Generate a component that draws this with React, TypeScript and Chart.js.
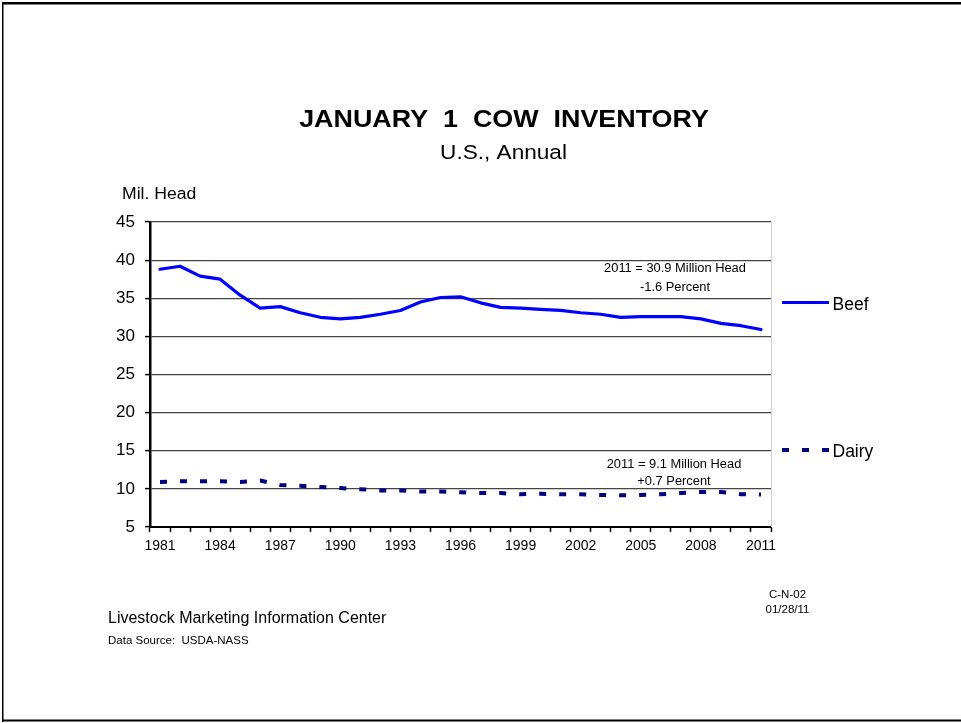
import React, { useEffect, useRef } from "react";
import { Chart, registerables } from "chart.js";

Chart.register(...registerables);

const years: string[] = [
  "1981", "1982", "1983", "1984", "1985", "1986", "1987", "1988", "1989", "1990",
  "1991", "1992", "1993", "1994", "1995", "1996", "1997", "1998", "1999", "2000",
  "2001", "2002", "2003", "2004", "2005", "2006", "2007", "2008", "2009", "2010", "2011",
];

const beef: number[] = [
  38.8, 39.2, 37.9, 37.5, 35.4, 33.7, 33.9, 33.1, 32.5, 32.3,
  32.5, 32.9, 33.4, 34.5, 35.1, 35.2, 34.4, 33.8, 33.7, 33.55,
  33.4, 33.1, 32.9, 32.5, 32.6, 32.6, 32.6, 32.3, 31.7, 31.4, 30.9,
];

const dairy: number[] = [
  10.9, 11.0, 11.0, 11.0, 10.9, 11.1, 10.5, 10.4, 10.25, 10.1,
  9.95, 9.8, 9.8, 9.65, 9.65, 9.55, 9.45, 9.45, 9.3, 9.35,
  9.3, 9.3, 9.2, 9.15, 9.2, 9.3, 9.45, 9.6, 9.6, 9.3, 9.25,
];

const yTicks = { min: 5, max: 45, step: 5 };
const title = "JANUARY  1  COW  INVENTORY";
const subtitle = "U.S., Annual";
const yAxisTitle = "Mil. Head";
const beefNote = ["2011 = 30.9 Million Head", "-1.6 Percent"];
const dairyNote = ["2011 = 9.1 Million Head", "+0.7 Percent"];
const legendLabels = ["Beef", "Dairy"];
const footer1 = "Livestock Marketing Information Center";
const footer2 = "Data Source:  USDA-NASS";
const code1 = "C-N-02";
const code2 = "01/28/11";

const FONT = "'Liberation Sans', Arial, Helvetica, sans-serif";

function txt(
  ctx: CanvasRenderingContext2D,
  s: string,
  x: number,
  y: number,
  size: number,
  opts: { bold?: boolean; align?: CanvasTextAlign; sx?: number } = {}
) {
  ctx.save();
  ctx.translate(x, y);
  ctx.scale(opts.sx ?? 1, 1);
  ctx.font = `${opts.bold ? "bold " : ""}${size}px ${FONT}`;
  ctx.fillStyle = "#000";
  ctx.textAlign = opts.align ?? "left";
  ctx.textBaseline = "alphabetic";
  ctx.fillText(s, 0, 0);
  ctx.restore();
}

const decorPlugin = {
  id: "decor",
  afterDraw(chart: any) {
    const ctx: CanvasRenderingContext2D = chart.ctx;
    const a = chart.chartArea;
    ctx.save();
    // outer frame (right side falls outside the picture)
    ctx.fillStyle = "#000";
    ctx.fillRect(2, 2, 959, 2.5);
    ctx.fillRect(2, 2, 1.5, 720);
    ctx.fillRect(2, 719.5, 959, 2);

    // plot right edge
    ctx.strokeStyle = "#d0d0d0";
    ctx.lineWidth = 1;
    ctx.beginPath();
    ctx.moveTo(a.right + 0.5, a.top);
    ctx.lineTo(a.right + 0.5, a.bottom);
    ctx.stroke();

    // titles
    txt(ctx, title, 504, 127, 24, { bold: true, sx: 1.12, align: "center" });
    txt(ctx, subtitle, 503.5, 159, 20, { align: "center", sx: 1.13 });
    txt(ctx, yAxisTitle, 122, 199, 16, { sx: 1.1 });

    // notes
    txt(ctx, beefNote[0], 675, 272, 12.5, { align: "center", sx: 1.03 });
    txt(ctx, beefNote[1], 675, 291, 12.5, { align: "center", sx: 1.03 });
    txt(ctx, dairyNote[0], 674, 467.5, 12.5, { align: "center", sx: 1.03 });
    txt(ctx, dairyNote[1], 674, 485, 12.5, { align: "center", sx: 1.03 });

    // legend
    ctx.strokeStyle = "#0000ff";
    ctx.lineWidth = 3;
    ctx.beginPath();
    ctx.moveTo(782, 302.5);
    ctx.lineTo(829, 302.5);
    ctx.stroke();
    txt(ctx, legendLabels[0], 832.5, 310, 17.5);
    ctx.strokeStyle = "#000080";
    ctx.lineWidth = 4;
    ctx.setLineDash([7, 13]);
    ctx.beginPath();
    ctx.moveTo(782, 450);
    ctx.lineTo(829, 450);
    ctx.stroke();
    ctx.setLineDash([]);
    txt(ctx, legendLabels[1], 832.5, 456.5, 17.5);

    // footer
    txt(ctx, footer1, 108, 623, 16);
    txt(ctx, footer2, 108, 644, 11.5);
    txt(ctx, code1, 787.5, 598, 11.5, { align: "center" });
    txt(ctx, code2, 787.5, 613, 11.5, { align: "center" });
    ctx.restore();
  },
};

export default function App() {
  const ref = useRef<HTMLCanvasElement | null>(null);

  useEffect(() => {
    if (!ref.current) return;
    const chart = new Chart(ref.current, {
      type: "line",
      data: {
        labels: years,
        datasets: [
          {
            label: "Beef",
            data: beef,
            borderColor: "#0000ff",
            backgroundColor: "#0000ff",
            borderWidth: 3.2,
            pointRadius: 0,
            tension: 0,
            borderJoinStyle: "round",
            borderCapStyle: "round",
          },
          {
            label: "Dairy",
            data: dairy,
            borderColor: "#000080",
            backgroundColor: "#000080",
            borderWidth: 4,
            borderDash: [7, 13],
            pointRadius: 0,
            tension: 0,
            borderCapStyle: "butt",
          },
        ],
      },
      options: {
        responsive: false,
        devicePixelRatio: 1,
        animation: false,
        layout: { padding: { top: 222, right: 190, left: 0, bottom: 0 } },
        plugins: {
          legend: { display: false },
          title: { display: false },
          tooltip: { enabled: false },
        },
        scales: {
          x: {
            type: "category",
            offset: true,
            afterFit: (s: any) => {
              s.height = 196;
            },
            border: { display: true, color: "#000", width: 2 },
            grid: {
              display: true,
              offset: true,
              drawOnChartArea: false,
              drawTicks: true,
              tickLength: 5,
              tickColor: "#000",
              tickWidth: 1.5,
            },
            ticks: {
              autoSkip: false,
              maxRotation: 0,
              minRotation: 0,
              padding: 6,
              color: "#000",
              font: { family: FONT, size: 14 },
              callback: (_v: any, i: number) => (i % 3 === 0 ? years[i] : ""),
            },
          },
          y: {
            min: yTicks.min,
            max: yTicks.max,
            afterFit: (s: any) => {
              s.width = 150;
            },
            border: { display: true, color: "#000", width: 2.5 },
            grid: {
              color: "#444",
              lineWidth: 1.2,
              drawTicks: true,
              tickLength: 5,
              tickColor: "#000",
              tickWidth: 1.5,
            },
            ticks: {
              stepSize: yTicks.step,
              padding: 10,
              color: "#000",
              font: { family: FONT, size: 17 },
            },
          },
        },
      },
      plugins: [decorPlugin as any],
    });
    return () => chart.destroy();
  }, []);

  return (
    <div
      style={{
        position: "absolute",
        left: 0,
        top: 0,
        width: 961,
        height: 723,
        background: "#fff",
      }}
    >
      <canvas
        ref={ref}
        width={961}
        height={723}
        style={{ display: "block", width: 961, height: 723 }}
      />
    </div>
  );
}
